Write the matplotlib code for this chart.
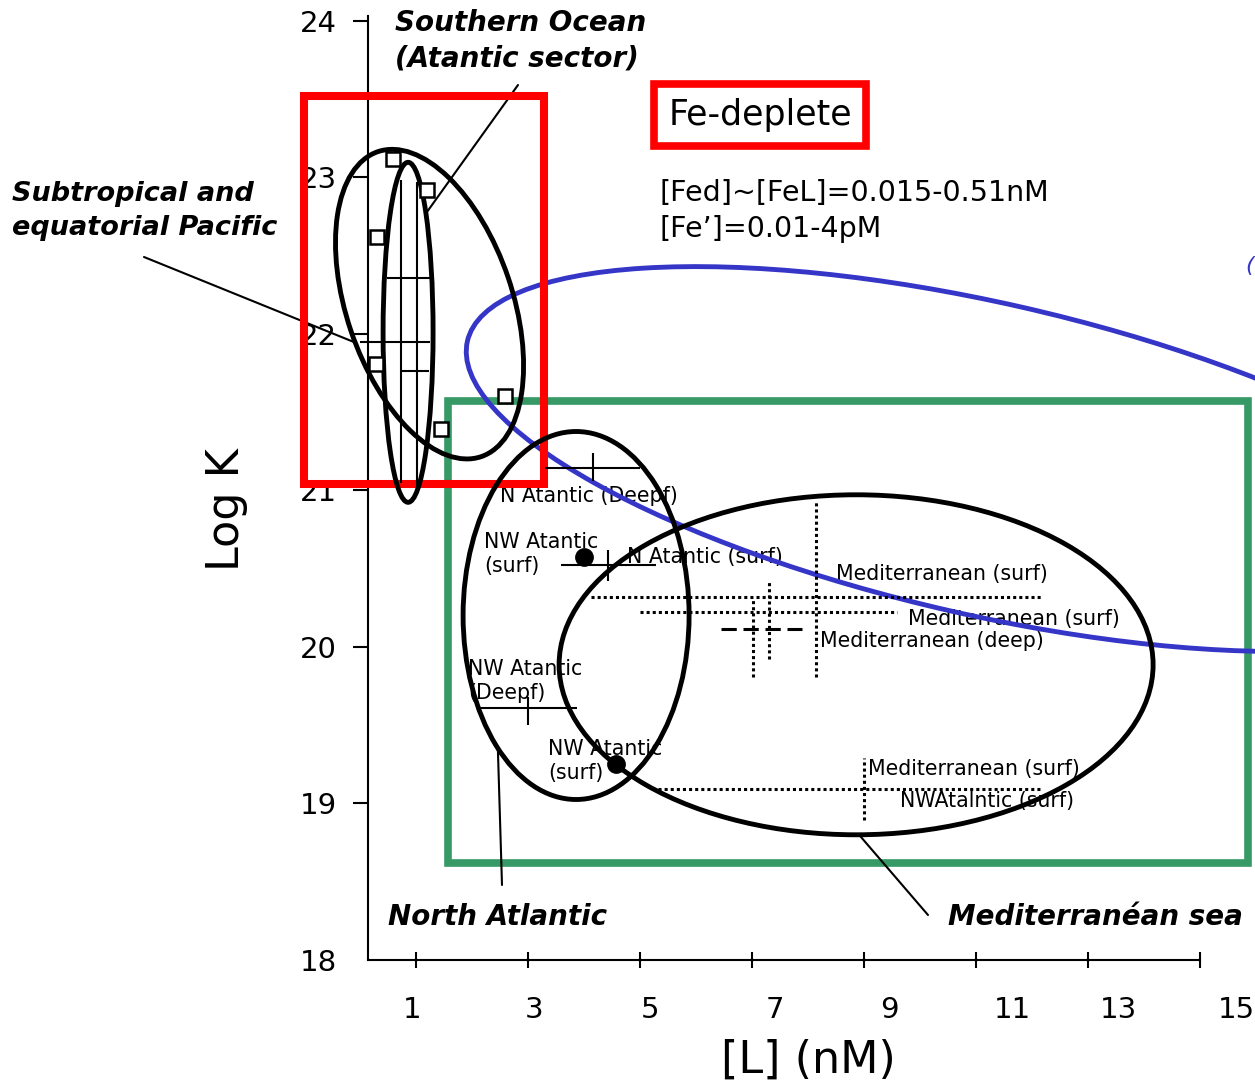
import matplotlib.pyplot as plt
from matplotlib.patches import Ellipse, Rectangle
from matplotlib.transforms import ScaledTranslation

plt.rcParams['font.family'] = 'DejaVu Sans'

# axis ticks (labels were placed by hand in the original, a bit off the ticks)
x_ticks = [1, 3, 5, 7, 9, 11, 13, 15]
x_ticklabels = ['1', '3', '5', '7', '9', '11', '13', '15']
x_label_pos = [0.93, 3.11, 5.18, 7.41, 9.46, 11.64, 13.54, 15.64]
y_ticks = [18, 19, 20, 21, 22, 23, 24]

# Southern Ocean (Atlantic sector), open squares
so_L = [0.58, 1.19, 0.30, 0.29, 2.58, 1.44]
so_logK = [23.12, 22.92, 22.62, 21.81, 21.60, 21.39]

# subtropical / equatorial Pacific, error bars only
pac_L = [0.73, 1.02, 0.98]
pac_logK = [21.95, 22.36, 21.76]
pac_Lerr = [[0.73, 0.54, 0.25], [0.52, 0.23, 0.25]]
pac_Kerr = [[0.90, 1.33, 0.0], [1.035, 0.61, 0.0]]

# North Atlantic, solid error bars: N Atl deep, N Atl surf, NW Atl deep
natl_L = [4.16, 4.43, 3.0]
natl_logK = [21.14, 20.52, 19.61]
natl_Lerr = [[0.86, 0.84, 0.86], [0.84, 0.86, 0.87]]
natl_Kerr = [[0.08, 0.10, 0.11], [0.10, 0.10, 0.07]]

# NW Atlantic surface, filled dots
nwa_L = [4.0, 4.57]
nwa_logK = [20.575, 19.25]

# Mediterranean surface, dotted error bars
med_L = [8.14, 7.30, 9.0]
med_logK = [20.32, 20.22, 19.09]
med_Lerr = [[4.02, 2.30, 3.68], [4.02, 2.29, 3.14]]
med_Kerr = [[0.51, 0.30, 0.20], [0.61, 0.21, 0.20]]

# Mediterranean deep
medd_L = [7.01]
medd_logK = [20.115]
medd_Lerr = [[0.57], [0.875]]
medd_Kerr = [[0.31], [0.20]]

# boxes [x0, x1, y0, y1] in data units
fe_box = [-1.0, 3.29, 21.04, 23.52]
green_box = [1.57, 15.86, 18.62, 21.57]

fig = plt.figure(figsize=(12.55, 10.88), dpi=100)
ax = fig.add_axes([0, 0, 1, 1])
ax.set_xlim(-6.43, 15.98)
ax.set_ylim(17.18, 24.134)

for s in ['top', 'right']:
    ax.spines[s].set_visible(False)
ax.spines['left'].set_position(('data', 0.143))
ax.spines['left'].set_bounds(18, 24.03)
ax.spines['bottom'].set_position(('data', 18))
ax.spines['bottom'].set_bounds(0.143, 15)
ax.spines['left'].set_linewidth(1.5)
ax.spines['bottom'].set_linewidth(1.5)

ax.set_yticks(y_ticks)
ax.tick_params(axis='y', direction='out', length=10.5, width=1.5, pad=12, labelsize=21)
ax.yaxis.get_major_ticks()[0].tick1line.set_visible(False)
ax.set_xticks(x_ticks)
ax.set_xticklabels([])
ax.set_xticks(x_label_pos, minor=True)
ax.set_xticklabels(x_ticklabels, minor=True)
ax.tick_params(axis='x', which='major', direction='inout', length=11.5, width=1.5)
ax.tick_params(axis='x', which='minor', length=0, pad=26, labelsize=21)

ax.set_xlabel('[L] (nM)', fontsize=32)
ax.xaxis.set_label_coords(808 / 1255, 28 / 1088)
ax.xaxis.label.set_verticalalignment('center')
ax.set_ylabel('Log K', fontsize=32)
ax.yaxis.set_label_coords(226 / 1255, 578 / 1088)
ax.yaxis.label.set_verticalalignment('center')

# region boxes
ax.add_patch(Rectangle((green_box[0], green_box[2]), green_box[1] - green_box[0], green_box[3] - green_box[2],
                       fill=False, ec='#369966', lw=5.5, zorder=1))
ax.add_patch(Rectangle((fe_box[0], fe_box[2]), fe_box[1] - fe_box[0], fe_box[3] - fe_box[2],
                       fill=False, ec='#ff0000', lw=5.8, zorder=4))


def region(cx, cy, w, h, ang, color='black', z=6):
    # w, h in pixels so the outline keeps its on-screen shape
    tr = fig.dpi_scale_trans + ScaledTranslation(cx, cy, ax.transData)
    ax.add_patch(Ellipse((0, 0), w / 100, h / 100, angle=ang, transform=tr,
                         fill=False, ec=color, lw=3.5, zorder=z))


region(11.18, 21.2, 1064, 312, -12.8, color='#3535c8', z=3)
region(1.24, 22.19, 322, 166, 108.7)
region(0.857, 22.01, 50, 340, 0)
region(3.857, 20.20, 226, 368, 0)
region(8.857, 19.885, 594, 340, 0)

# data
ax.errorbar(pac_L, pac_logK, xerr=pac_Lerr, yerr=pac_Kerr, fmt='none', ecolor='black', elinewidth=1.5, zorder=5)
ax.errorbar(natl_L, natl_logK, xerr=natl_Lerr, yerr=natl_Kerr, fmt='none', ecolor='black', elinewidth=1.5, zorder=5)
eb = ax.errorbar(med_L, med_logK, xerr=med_Lerr, yerr=med_Kerr, fmt='none', ecolor='black', elinewidth=2.2, zorder=5)
for c in eb[2]:
    c.set_linestyle((0, (1, 1)))
eb = ax.errorbar(medd_L, medd_logK, xerr=medd_Lerr, fmt='none', ecolor='black', elinewidth=2.2, zorder=5)
eb[2][0].set_linestyle((0, (5, 2.2)))
eb = ax.errorbar(medd_L, medd_logK, yerr=medd_Kerr, fmt='none', ecolor='black', elinewidth=2.2, zorder=5)
eb[2][0].set_linestyle((0, (1, 1)))
ax.plot(so_L, so_logK, 's', ms=9.5, mfc='white', mec='black', mew=1.8, zorder=7)
ax.plot(nwa_L, nwa_logK, 'o', ms=12.5, color='black', zorder=7)


def label(s, x, y, size=14.8, **kw):
    # x, y in pixels from the top-left corner
    ax.annotate(s, (x, 1088 - y), xycoords='figure pixels', fontsize=size, va='center', **kw)


big = dict(fontweight='bold', fontstyle='italic', size=20)
label('Southern Ocean\n(Atantic sector)', 395, 41, linespacing=1.35, **big)
label('North Atlantic', 388, 917, **big)
label('Mediterranéan sea', 948, 917, **big)
label('Subtropical and\nequatorial Pacific', 12, 211, fontweight='bold', fontstyle='italic',
      size=19.5, linespacing=1.4)
label('Fe-deplete', 760, 115, size=25, ha='center',
      bbox=dict(boxstyle='square,pad=0.4', fc='white', ec='#ff0000', lw=5.5))
label('[Fed]~[FeL]=0.015-0.51nM\n[Fe\u2019]=0.01-4pM', 660, 211, size=20.5, linespacing=1.35)
label('(', 1245, 266, size=16, color='#3535c8', fontstyle='italic')

label('N Atantic (Deepf)', 500, 496, zorder=2)
label('NW Atantic\n(surf)', 484, 554, linespacing=1.25, zorder=2)
label('N Atantic (surf)', 627, 557, zorder=2)
label('Mediterranean (surf)', 836, 574, zorder=2)
label('Mediterranean (surf)', 908, 619, zorder=2)
label('Mediterranean (deep)', 820, 641, zorder=2)
label('NW Atantic\n(Deepf)', 468, 681, linespacing=1.25, zorder=2)
label('NW Atantic\n(surf)', 548, 761, linespacing=1.25, zorder=2)
label('Mediterranean (surf)', 868, 769, zorder=2)
label('NWAtalntic (surf)', 900, 801, zorder=2)

# leader lines from the region names
lead = dict(arrowstyle='-', lw=1.5, color='black', shrinkA=0, shrinkB=0)
ax.annotate('', xy=(1.196, 22.78), xytext=(518, 1003), textcoords='figure pixels', arrowprops=lead)
ax.annotate('', xy=(-0.125, 21.95), xytext=(144, 831), textcoords='figure pixels', arrowprops=lead)
ax.annotate('', xy=(2.46, 19.35), xytext=(502, 203), textcoords='figure pixels', arrowprops=lead)
ax.annotate('', xy=(8.93, 18.79), xytext=(928, 173), textcoords='figure pixels', arrowprops=lead)

fig.savefig('out.png', dpi=100)
